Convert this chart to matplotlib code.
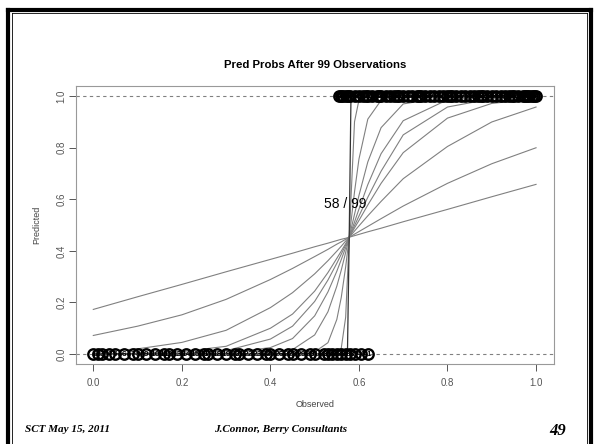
import numpy as np
import matplotlib
matplotlib.use("Agg")
import matplotlib.pyplot as plt
from matplotlib.lines import Line2D

# grid where the predicted curves are evaluated
grid = [0, 0.1, 0.2, 0.3, 0.4, 0.45, 0.5, 0.53, 0.55, 0.56, 0.57, 0.578,
        0.59, 0.6, 0.62, 0.65, 0.7, 0.8, 0.9, 1.0]

# predicted probability curves (one per fit)
curve_a = [0.173, 0.222, 0.270, 0.319, 0.367, 0.391, 0.416, 0.430, 0.440, 0.445,
           0.449, 0.453, 0.459, 0.464, 0.474, 0.488, 0.513, 0.561, 0.610, 0.658]
curve_b = [0.072, 0.108, 0.152, 0.212, 0.289, 0.332, 0.378, 0.406, 0.426, 0.435,
           0.445, 0.453, 0.465, 0.475, 0.495, 0.525, 0.574, 0.662, 0.738, 0.800]
curve_c = [0.008, 0.020, 0.045, 0.092, 0.180, 0.238, 0.311, 0.362, 0.399, 0.418,
           0.438, 0.453, 0.477, 0.497, 0.536, 0.592, 0.680, 0.805, 0.900, 0.958]
curve_d = [0.001, 0.003, 0.009, 0.030, 0.100, 0.155, 0.244, 0.316, 0.371, 0.399,
           0.428, 0.453, 0.489, 0.518, 0.578, 0.662, 0.781, 0.915, 0.972, 0.990]
curve_e = [0.000, 0.001, 0.003, 0.013, 0.058, 0.108, 0.204, 0.287, 0.352, 0.387,
           0.423, 0.453, 0.498, 0.535, 0.608, 0.709, 0.850, 0.958, 0.990, 0.998]
curve_f = [0.000, 0.000, 0.000, 0.003, 0.025, 0.060, 0.148, 0.241, 0.321, 0.366,
           0.413, 0.453, 0.512, 0.562, 0.657, 0.777, 0.905, 0.986, 0.998, 1.000]
curve_g = [0.000, 0.000, 0.000, 0.000, 0.004, 0.017, 0.074, 0.164, 0.263, 0.325,
           0.394, 0.453, 0.542, 0.615, 0.745, 0.878, 0.970, 0.998, 1.000, 1.000]
curve_h = [0.000, 0.000, 0.000, 0.000, 0.000, 0.000, 0.008, 0.044, 0.134, 0.219,
           0.338, 0.453, 0.629, 0.756, 0.911, 0.984, 0.999, 1.000, 1.000, 1.000]
curve_i = [0.000, 0.000, 0.000, 0.000, 0.000, 0.000, 0.000, 0.000, 0.003, 0.022,
           0.143, 0.453, 0.901, 0.985, 1.000, 1.000, 1.000, 1.000, 1.000, 1.000]
curves = [curve_a, curve_b, curve_c, curve_d, curve_e, curve_f, curve_g, curve_h, curve_i]

# the sharpest fit jumps straight up at the split
step_x = [0, 0.574, 0.578, 0.582, 1.0]
step_y = [0, 0.0, 0.453, 1.0, 1.0]

# observed x for the failures (y=0) and successes (y=1)
fail_x = [0.0, 0.01, 0.02, 0.035, 0.05, 0.07, 0.09, 0.1, 0.12, 0.14, 0.16, 0.17,
          0.19, 0.21, 0.23, 0.25, 0.26, 0.28, 0.3, 0.32, 0.33, 0.35, 0.37, 0.39,
          0.4, 0.42, 0.44, 0.45, 0.47, 0.49, 0.5, 0.52, 0.53, 0.54, 0.55, 0.56,
          0.57, 0.58, 0.59, 0.605, 0.62]
succ_x = [0.555, 0.56, 0.565, 0.57, 0.575, 0.58, 0.59, 0.6, 0.61, 0.615, 0.62,
          0.63, 0.64, 0.645, 0.65, 0.66, 0.67, 0.68, 0.685, 0.69, 0.7, 0.71, 0.72,
          0.73, 0.735, 0.74, 0.75, 0.76, 0.77, 0.78, 0.79, 0.8, 0.805, 0.81, 0.82,
          0.83, 0.84, 0.85, 0.86, 0.87, 0.875, 0.88, 0.89, 0.9, 0.91, 0.92, 0.93,
          0.94, 0.945, 0.95, 0.96, 0.97, 0.975, 0.98, 0.985, 0.99, 0.995, 1.0]

ticks = [0.0, 0.2, 0.4, 0.6, 0.8, 1.0]
tick_labels = ["0.0", "0.2", "0.4", "0.6", "0.8", "1.0"]
n_succ, n_obs = 58, 99

plt.rcParams['font.family'] = ['Liberation Sans', 'DejaVu Sans']

fig = plt.figure(figsize=(5.94, 4.44), dpi=100)
ax = fig.add_axes([0.128, 0.180, 0.805, 0.626])

gray = "#808080"
for c in curves:
    ax.plot(grid, c, color=gray, lw=0.8)
ax.plot(step_x, step_y, color="#333333", lw=0.9)

ax.axhline(0, color=gray, ls=(0, (3, 3)), lw=0.8)
ax.axhline(1, color=gray, ls=(0, (3, 3)), lw=0.8)

# each observation: open circle plus its index number
ax.plot(fail_x, np.zeros(len(fail_x)), 'o', mfc='none', mec='black', ms=7.5, mew=1.7)
ax.plot(succ_x, np.ones(len(succ_x)), 'o', mfc='none', mec='black', ms=7.5, mew=1.7)
for k, x in enumerate(fail_x):
    ax.text(x, 0, str(k + 1), fontsize=6, fontweight='bold', ha='center', va='center')
for k, x in enumerate(succ_x):
    ax.text(x, 1, str(len(fail_x) + k + 1), fontsize=6, fontweight='bold',
            ha='center', va='center')

ax.text(0.569, 0.58, "%d / %d" % (n_succ, n_obs), fontsize=10, ha='center', va='center')

ax.set_xlim(-0.039, 1.041)
ax.set_ylim(-0.039, 1.039)
ax.set_xticks(ticks)
ax.set_xticklabels(tick_labels)
ax.set_yticks(ticks)
ax.set_yticklabels(tick_labels, rotation=90, va='center')
ax.tick_params(colors="#555555", labelsize=7, length=5, width=0.7)
ax.tick_params(axis='x', pad=5)
ax.tick_params(axis='y', pad=2)
for s in ax.spines.values():
    s.set_color("#999999")
    s.set_linewidth(0.8)

ax.set_title("Pred Probs After 99 Observations", fontsize=8.2, fontweight='bold', pad=13)
ax.set_xlabel("Observed", fontsize=6.5, color="#444444", labelpad=9)
ax.set_ylabel("Predicted", fontsize=6.5, color="#444444", labelpad=11)

# slide frame
fig.add_artist(Line2D([0.013, 0.013], [0.0, 0.978], color='black', lw=3))
fig.add_artist(Line2D([0.013, 0.995], [0.978, 0.978], color='black', lw=3))
fig.add_artist(Line2D([0.995, 0.995], [0.0, 0.978], color='black', lw=3))
fig.add_artist(Line2D([0.020, 0.020], [0.0, 0.970], color='black', lw=0.6))
fig.add_artist(Line2D([0.020, 0.989], [0.970, 0.970], color='black', lw=0.6))
fig.add_artist(Line2D([0.989, 0.989], [0.0, 0.970], color='black', lw=0.6))

# slide footer
foot = dict(family='Liberation Serif', fontweight='bold', style='italic', va='center')
fig.text(0.042, 0.032, "SCT May 15, 2011", fontsize=8, ha='left', **foot)
fig.text(0.472, 0.032, "J.Connor, Berry Consultants", fontsize=8, ha='center', **foot)
fig.text(0.938, 0.030, "49", fontsize=12, ha='center', **foot)

fig.savefig("out.png", dpi=100)
